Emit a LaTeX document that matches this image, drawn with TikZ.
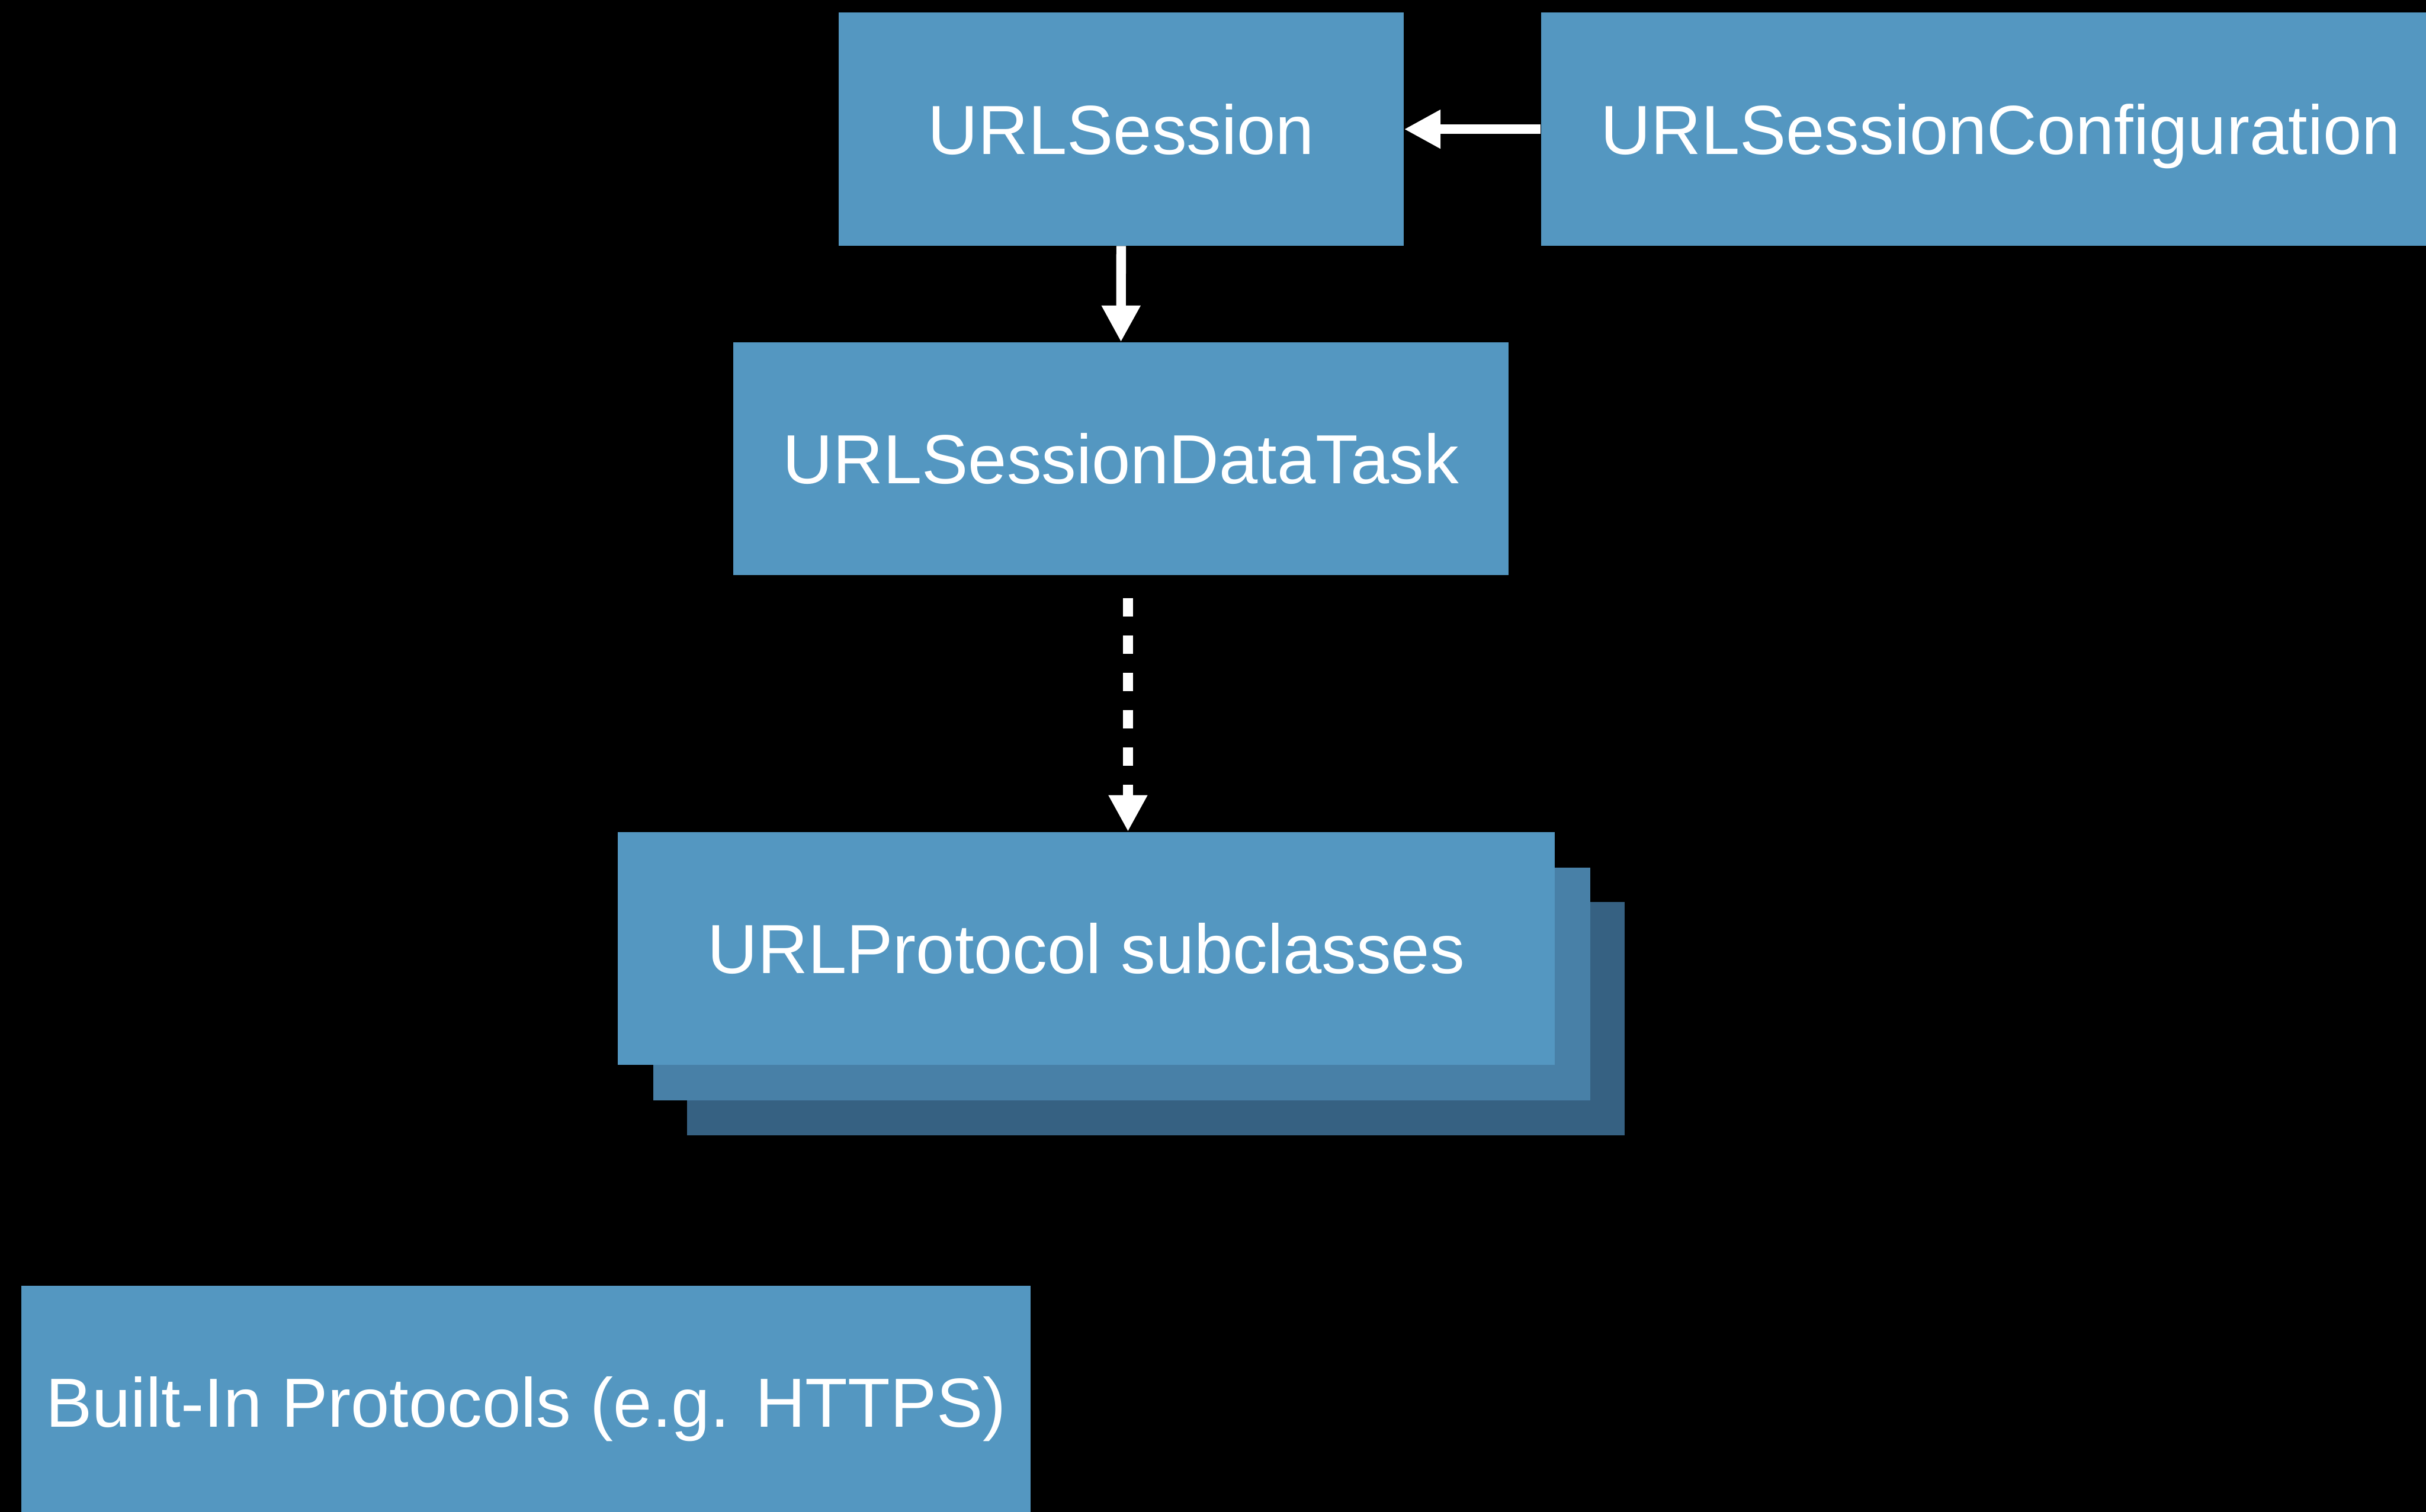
\documentclass[tikz,border=0pt]{standalone}
\usepackage{fontspec}
\setmainfont{Liberation Sans}
\usetikzlibrary{arrows.meta,calc}
\definecolor{boxblue}{RGB}{84,151,193}
\definecolor{boxmid}{RGB}{72,128,167}
\definecolor{boxdark}{RGB}{54,97,130}
\tikzset{
	box/.style={fill=boxblue, text=white, inner sep=0pt, minimum height=5.3cm,
		text height=1.13cm, text depth=0cm, font=\fontsize{45}{54}\selectfont},
	flow/.style={draw=white, line width=0.22cm, -{Triangle[length=0.83cm,width=0.83cm]}},
	dashflow/.style={flow, dash pattern=on 0.42cm off 0.43cm, shorten <=0.51cm}
}

\begin{document}
\begin{tikzpicture}
		%%%%% START %%%%%
		
		\useasboundingbox (0, 0) rectangle (55.2, 34.4);
		\clip (0, 0) rectangle (55.2, 34.4);
		\fill[black] (0, 0) rectangle (55.2, 34.4);
		
		\node[box, minimum width=12.86cm] (session) at (25.51, 31.46) {URLSession};
		\node[box, minimum width=20.92cm] (config) at (45.52, 31.46) {URLSessionConfiguration};
		\node[box, minimum width=17.63cm] (task) at (25.505, 23.96) {URLSessionDataTask};
		
		% stacked protocol boxes, back to front
		\node[box, fill=boxdark, minimum width=21.33cm] (protoc) at (26.30, 11.22) {};
		\node[box, fill=boxmid, minimum width=21.33cm] (protob) at (25.525, 12.01) {};
		\node[box, minimum width=21.33cm] (proto) at (24.715, 12.82) {URLProtocol subclasses};
		
		\node[box, minimum width=22.96cm] (builtin) at (11.97, 2.49) {Built-In Protocols (e.g. HTTPS)};
		
		\draw[flow] (config.west) -- (session.east);
		\draw[flow] (session.south) -- (task.north);
		
		\coordinate (dtop) at ([xshift=1.6mm]task.south);
		\draw[dashflow] (dtop) -- (dtop |- proto.north);
		
		%%%%% END %%%%%
	\end{tikzpicture}
\end{document}
